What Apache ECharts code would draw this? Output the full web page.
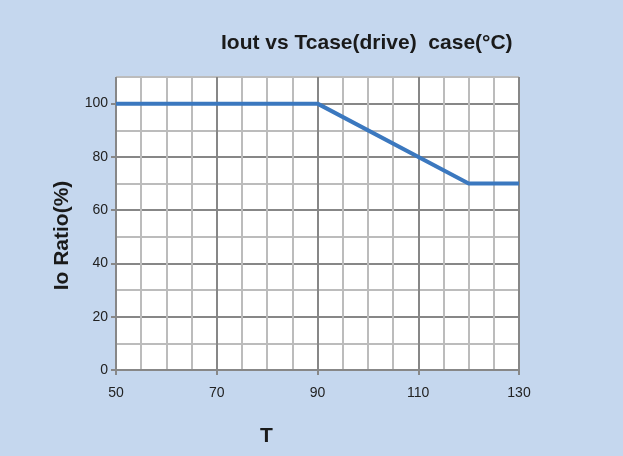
<!DOCTYPE html>
<html>
<head>
<meta charset="utf-8">
<script src="https://cdn.jsdelivr.net/npm/echarts@6/dist/echarts.min.js"></script>
<style>
  html, body { margin: 0; padding: 0; background: #c5d7ee; }
  #chart { width: 623px; height: 456px; }
</style>
</head>
<body>
<div id="chart"></div>
<script>
// derating curve: case temperature vs output current ratio
const tcase = [50, 90, 120, 130];
const ioRatio = [100, 100, 70, 70];
const xTicks = [50, 70, 90, 110, 130];
const yTicks = [0, 20, 40, 60, 80, 100];

const major = '#878787';
const minor = '#bcbcbc';
const nameStyle = { fontSize: 21, fontWeight: 'bold', color: '#1a1a1a' };

const chart = echarts.init(document.getElementById('chart'));

const option = {
  backgroundColor: '#c5d7ee',
  animation: false,
  textStyle: { fontFamily: '"Liberation Sans", Arial, sans-serif' },
  title: {
    text: 'Iout vs Tcase(drive)  case(°C)',
    left: 216,
    top: 28,
    textStyle: nameStyle
  },
  grid: {
    left: 116, right: 104, top: 77, bottom: 86,
    show: true, backgroundColor: '#ffffff', borderWidth: 0
  },
  xAxis: [
    {
      // fine grid, every 5 degrees
      type: 'value', min: 50, max: 130, interval: 5,
      axisLine: { show: false },
      axisTick: { show: false },
      axisLabel: { show: false },
      splitLine: { lineStyle: { color: [major, minor, minor, minor], width: 2 } }
    },
    {
      type: 'value', min: 50, max: 130, position: 'bottom',
      name: 'T',
      nameLocation: 'middle',
      nameGap: 56,
      nameTextStyle: Object.assign({ padding: [0, 102, 0, 0] }, nameStyle),
      axisLine: { lineStyle: { color: major, width: 2 } },
      axisTick: { length: 5, customValues: xTicks, lineStyle: { color: major, width: 2 } },
      axisLabel: { fontSize: 14, color: '#222', margin: 16, customValues: xTicks },
      splitLine: { show: false }
    }
  ],
  yAxis: [
    {
      // fine grid, every 10 %
      type: 'value', min: 0, max: 110, interval: 10,
      axisLine: { show: false },
      axisTick: { show: false },
      axisLabel: { show: false },
      splitLine: { lineStyle: { color: [major, minor], width: 2 } }
    },
    {
      type: 'value', min: 0, max: 110, position: 'left',
      name: 'Io Ratio(%)',
      nameLocation: 'middle',
      nameGap: 43,
      nameTextStyle: Object.assign({ padding: [0, 24, 0, 0] }, nameStyle),
      axisLine: { show: false },
      axisTick: { show: true, length: 5, customValues: yTicks, lineStyle: { color: major, width: 2 } },
      axisLabel: { fontSize: 14, color: '#222', margin: 8, customValues: yTicks },
      splitLine: { show: false }
    }
  ],
  series: [
    {
      type: 'line',
      xAxisIndex: 0,
      yAxisIndex: 0,
      data: tcase.map((t, i) => [t, ioRatio[i]]),
      showSymbol: false,
      lineStyle: { color: '#3b78bf', width: 4 }
    }
  ]
};

chart.setOption(option);
</script>
</body>
</html>
